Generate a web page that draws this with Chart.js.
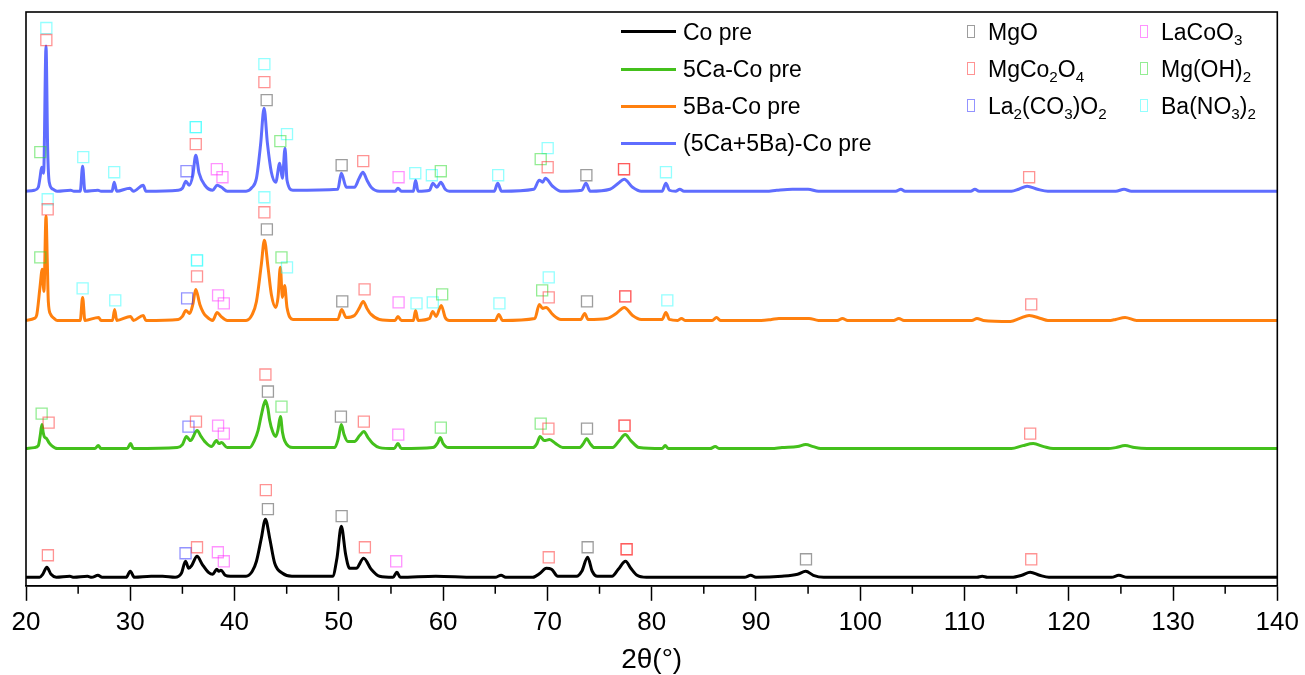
<!DOCTYPE html>
<html><head><meta charset="utf-8">
<script src="https://cdn.jsdelivr.net/npm/chart.js@4.4.1/dist/chart.umd.min.js"></script>
<style>
html,body{margin:0;padding:0;background:#fff;}
#wrap{position:relative;width:1305px;height:675px;font-family:'Liberation Sans',Arial,sans-serif;color:#000;}
#c{position:absolute;left:0;top:0;}
.item{position:absolute;height:30px;line-height:30px;font-size:23px;white-space:nowrap;}
.ln{position:absolute;height:3px;width:55px;}
.sq{position:absolute;width:6px;height:11px;border-width:1.3px;border-style:solid;}
sub{font-size:0.66em;vertical-align:-0.3em;line-height:0;}
</style></head>
<body><div id="wrap"><canvas id="c" width="1305" height="675"></canvas></div>
<script>
// ---- axis ----
const xMin = 20, xMax = 140, majorStep = 10, minorStep = 5;
const xTitle = '2θ(°)';

// ---- series (2θ, intensity above own baseline, a.u.) ----
const seriesNames = ['Co pre', '5Ca-Co pre', '5Ba-Co pre', '(5Ca+5Ba)-Co pre'];
const seriesColors = ['#000000', '#44c01c', '#ff800e', '#5f6dff'];
const seriesOffsets = [8.5, 137, 265, 394];

const coPre = [[20,0],[21.3,0],[21.6,3],[22.0,10],[22.4,3],[22.9,0],[24.2,1],[24.6,0],[25.9,1],[26.3,0],[26.9,2],[27.3,0],[29.6,0],[30.0,6],[30.4,0],[32.0,1],[33.1,1],[34.3,0],[34.9,4],[35.3,16],[35.6,9],[35.9,12],[36.4,21],[36.9,13],[37.5,5],[37.9,3],[38.3,8],[38.5,6],[38.7,7],[39.1,2],[39.6,1],[41.1,1],[41.7,6],[42.1,16],[42.57,39],[42.96,58],[43.37,39],[43.85,14],[44.6,4],[45.5,1],[49.4,1],[49.82,19],[50.24,51],[50.65,23],[51.03,9],[51.67,9],[52.38,19],[53.1,8],[53.9,1],[55.2,0],[55.57,5],[55.9,0],[59.3,1],[63,0],[65.0,0],[65.56,2],[66,0],[68.6,0],[69.3,4],[69.9,9],[70.4,8],[71.0,1],[72.8,1],[73.3,6],[73.86,20],[74.3,6],[74.8,1],[76.2,1],[76.8,8],[77.5,16],[78.0,9],[78.6,2],[79.5,0],[88.9,0],[89.5,2],[90,0],[92.5,1],[94.0,3],[94.78,6],[95.5,2],[96.5,0],[111.2,0],[111.7,1],[112.2,0],[114.5,0],[115.5,2],[116.3,5],[117.2,2],[118.1,0],[124.1,0],[124.8,2],[125.6,0],[140,0]];

const ca5CoPre = [[20,0],[20.8,1],[21.18,3],[21.35,12],[21.53,24],[21.65,16],[21.75,12],[21.98,10],[22.2,6],[22.46,3],[23,0],[26.6,0],[26.93,3],[27.2,0],[29.7,0],[30.03,5],[30.3,0],[34.5,1],[35.0,4],[35.39,12],[35.77,8],[36.41,18],[36.8,12],[37.15,7],[37.79,2],[38.27,8],[38.5,5],[38.75,6],[39.3,1],[41.46,1],[41.9,8],[42.25,18],[42.6,35],[42.96,48],[43.2,40],[43.37,28],[43.65,17],[43.95,12],[44.15,18],[44.4,32],[44.6,16],[44.8,8],[45.6,1],[49.6,1],[49.95,10],[50.24,24],[50.5,14],[50.87,7],[51.5,7],[52.0,13],[52.4,17],[52.8,11],[53.27,5],[53.9,1],[55.3,0],[55.67,5],[56.0,0],[59.0,1],[59.5,6],[59.72,11],[60.0,5],[60.5,1],[68.6,1],[69.0,5],[69.3,12],[69.7,8],[70.2,9],[70.8,5],[71.47,1],[73.07,1],[73.45,5],[73.77,10],[74.1,5],[74.5,1],[76.26,1],[76.9,8],[77.47,14],[78.0,8],[78.8,1],[81.0,0],[81.3,3],[81.6,0],[85.6,0],[86.1,2],[86.5,0],[91.5,0],[92.5,1],[94.0,2],[94.78,4],[95.5,2],[96.2,0],[114.5,0],[115.6,3],[116.6,5],[117.6,2],[118.5,0],[123.8,0],[124.5,1],[125.4,3],[126.3,1],[127.5,0],[140,0]];

const ba5CoPre = [[20,0],[20.8,2],[21.02,5],[21.34,33],[21.56,51],[21.72,29],[21.92,104],[22.04,60],[22.14,19],[22.36,6],[22.7,2],[23.0,0],[25.2,0],[25.43,23],[25.65,0],[26.96,3],[27.2,0],[28.3,0],[28.5,11],[28.7,0],[30.03,4],[30.3,0],[31.24,5],[31.5,0],[34.6,1],[35.0,4],[35.33,10],[35.7,7],[36.0,16],[36.28,31],[36.67,16],[37.0,8],[37.3,4],[37.9,0],[38.33,8],[38.7,4],[39.3,0],[41.1,0],[41.7,6],[42.1,19],[42.57,56],[42.86,80],[43.21,53],[43.53,26],[43.95,13],[44.17,23],[44.39,53],[44.59,23],[44.8,35],[45.03,13],[45.6,1],[49.9,1],[50.27,11],[50.7,3],[51.5,5],[51.95,12],[52.34,19],[52.7,12],[53.1,6],[53.9,1],[55.4,0],[55.67,4],[56,0],[57.15,0],[57.36,10],[57.6,0],[58.7,2],[59.0,9],[59.33,4],[59.82,15],[60.2,3],[60.6,0],[65.0,0],[65.34,6],[65.7,0],[68.8,2],[69.23,16],[69.55,12],[69.87,13],[70.5,6],[71.3,1],[73.2,1],[73.58,7],[73.9,1],[75.7,2],[76.6,7],[77.37,13],[78.17,5],[79.0,1],[81.0,1],[81.37,8],[81.7,1],[82.5,0],[82.86,2],[83.2,0],[85.8,0],[86.22,3],[86.6,0],[90.5,0],[91.5,1],[92.2,2],[95.1,2],[96,0],[97.8,0],[98.3,2],[98.8,0],[103.2,0],[103.7,2],[104.2,0],[110.7,0],[111.2,2],[111.8,0],[114.4,-1],[115.3,2],[116.2,5],[117.3,2],[118,0],[124.0,0],[124.5,1],[125.4,3],[126.5,0],[140,0]];

const caBaCoPre = [[20,0],[20.8,1],[21.18,4],[21.35,14],[21.5,24],[21.69,18],[21.92,145],[22.08,41],[22.23,9],[22.6,2],[23.0,0],[24.28,1],[24.6,0],[25.2,0],[25.43,25],[25.65,0],[26.9,1],[27.2,0],[28.25,0],[28.46,9],[28.7,0],[29.96,3],[30.3,0],[31.24,6],[31.5,0],[34.6,1],[35.0,3],[35.33,10],[35.65,6],[36.0,16],[36.28,36],[36.6,18],[37.15,6],[37.9,1],[38.33,6],[38.75,4],[39.3,0],[41.1,0],[41.7,4],[42.1,13],[42.51,48],[42.83,83],[43.15,48],[43.53,19],[43.95,9],[44.33,28],[44.59,13],[44.84,43],[45.03,11],[45.6,1],[49.9,2],[50.24,18],[50.72,4],[51.5,4],[51.95,13],[52.31,19],[52.7,11],[53.1,4],[53.9,0],[55.4,0],[55.67,3],[56,0],[57.15,0],[57.36,11],[57.6,0],[58.7,1],[59.02,8],[59.4,4],[59.78,9],[60.2,2],[60.6,0],[64.9,0],[65.24,8],[65.6,0],[68.7,2],[69.23,11],[69.55,9],[69.8,13],[70.5,5],[71.3,0],[73.3,1],[73.7,8],[74.1,0],[76.0,2],[76.8,8],[77.37,12],[78.17,4],[79.0,0],[81.0,0],[81.37,8],[81.7,1],[82.3,0],[82.7,2],[83.1,0],[91.0,0],[92.0,1],[93.5,2],[95.0,2],[96,0],[103.4,0],[103.9,2],[104.3,0],[110.6,0],[111.0,2],[111.4,0],[114.5,0],[115.2,2],[116.0,5],[117.0,2],[118,0],[124.5,0],[125.3,2],[126,0],[140,0]];

// ---- phase markers: [phase index, 2θ, height above own baseline] ----
const phaseNames = ['MgO', 'MgCo<sub>2</sub>O<sub>4</sub>', 'La<sub>2</sub>(CO<sub>3</sub>)O<sub>2</sub>', 'LaCoO<sub>3</sub>', 'Mg(OH)<sub>2</sub>', 'Ba(NO<sub>3</sub>)<sub>2</sub>'];
const phaseLabels = ['MgO', 'MgCo₂O₄', 'La₂(CO₃)O₂', 'LaCoO₃', 'Mg(OH)₂', 'Ba(NO₃)₂'];
const phaseColors = ['rgba(60,60,60,0.5)', 'rgba(255,40,40,0.5)', 'rgba(40,40,255,0.5)', 'rgba(255,40,255,0.5)', 'rgba(40,220,40,0.5)', 'rgba(40,255,255,0.5)'];

const coPreMarks = [[1,22.1,22],[2,35.3,24],[1,36.4,30],[3,38.4,25],[3,38.97,16],[1,43.0,87],[0,43.2,68],[0,50.27,61],[1,52.5,30],[3,55.5,16],[1,70.13,20],[0,73.86,30],[1,77.6,28],[1,77.6,28],[0,94.8,18],[1,116.4,18]];
const ca5Marks = [[4,21.5,35],[1,22.17,26],[2,35.58,22],[1,36.3,27],[3,38.42,23],[3,38.97,15],[1,42.96,74],[0,43.2,57],[4,44.5,42],[0,50.2,32],[1,52.4,27],[3,55.7,14],[4,59.78,21],[4,69.36,25],[1,70.1,20],[0,73.8,20],[1,77.4,23],[1,77.4,23],[1,116.3,15]];
const ba5Marks = [[4,21.37,63],[1,22.08,111],[5,22.08,121],[5,25.43,32],[5,28.56,20],[2,35.45,22],[1,36.4,44],[5,36.4,60],[5,36.4,60],[3,38.42,25],[3,38.97,17],[5,42.86,123],[1,42.86,108],[0,43.1,91],[4,44.5,63],[5,45.03,53],[0,50.33,19],[1,52.47,31],[3,55.73,18],[5,57.45,17],[5,59.01,18],[4,59.91,26],[5,65.4,17],[4,69.5,30],[1,70.13,23],[5,70.13,43],[0,73.8,19],[1,77.47,24],[1,77.47,24],[5,81.5,20],[1,116.4,16]];
const caBaMarks = [[4,21.37,39],[1,21.95,151],[5,21.95,163],[5,25.49,34],[5,28.46,19],[2,35.39,20],[1,36.28,47],[5,36.28,64],[5,36.28,64],[3,38.3,22],[3,38.84,14],[5,42.86,127],[1,42.86,109],[0,43.08,91],[4,44.39,50],[5,45.03,57],[0,50.27,26],[1,52.34,30],[3,55.73,14],[5,57.33,18],[5,58.92,16],[4,59.78,20],[5,65.28,16],[4,69.36,32],[1,70.03,24],[5,70.03,43],[0,73.74,16],[1,77.35,22],[1,77.35,22],[5,81.37,19],[1,116.2,14]];

const seriesData = [coPre, ca5CoPre, ba5CoPre, caBaCoPre];
const seriesMarks = [coPreMarks, ca5Marks, ba5Marks, caBaMarks];

// ---- build datasets ----
const datasets = [];
seriesData.forEach((arr, i) => {
  datasets.push({
    type: 'line', label: seriesNames[i],
    data: arr.map(p => ({x: p[0], y: p[1] + seriesOffsets[i]})),
    borderColor: seriesColors[i], borderWidth: 3, pointRadius: 0,
    cubicInterpolationMode: 'monotone', fill: false, order: 2
  });
});
phaseLabels.forEach((name, k) => {
  const pts = [];
  seriesMarks.forEach((marks, i) => marks.forEach(m => { if (m[0] === k) pts.push({x: m[1], y: m[2] + seriesOffsets[i]}); }));
  datasets.push({
    type: 'scatter', label: name, data: pts, showLine: false,
    pointStyle: 'rect', pointRadius: 7.8, pointHoverRadius: 7.8,
    pointBorderWidth: 1.3, pointBackgroundColor: 'rgba(0,0,0,0)',
    pointBorderColor: phaseColors[k], order: 1
  });
});

const framePlugin = {
  id: 'frameMinor',
  afterDraw(chart) {
    const {ctx, chartArea: a, scales: {x}} = chart;
    ctx.save();
    ctx.strokeStyle = '#000'; ctx.lineWidth = 1.6;
    ctx.strokeRect(a.left, a.top, a.right - a.left, a.bottom - a.top);
    ctx.lineWidth = 1.5;
    for (let v = xMin; v <= xMax; v += minorStep) {
      if (v % majorStep === 0) continue;
      const px = x.getPixelForValue(v);
      ctx.beginPath(); ctx.moveTo(px, a.bottom); ctx.lineTo(px, a.bottom + 8); ctx.stroke();
    }
    ctx.restore();
  }
};

const FONT = "'Liberation Sans', Arial, sans-serif";
new Chart(document.getElementById('c'), {
  data: {datasets},
  options: {
    responsive: false, animation: false, events: [],
    layout: {padding: {left: 26, right: 25, top: 12, bottom: 1}},
    plugins: {legend: {display: false}, tooltip: {enabled: false}},
    scales: {
      x: {
        type: 'linear', min: xMin, max: xMax, position: 'bottom',
        ticks: {stepSize: majorStep, color: '#000', padding: 6, font: {family: FONT, size: 26}, maxRotation: 0, autoSkip: false},
        grid: {drawOnChartArea: false, drawTicks: true, tickLength: 15, tickWidth: 1.5, tickColor: '#000'},
        border: {display: true, color: '#000', width: 1.6},
        title: {display: true, text: xTitle, color: '#000', font: {family: FONT, size: 28, lineHeight: 1}, padding: {top: 2, bottom: 0}}
      },
      y: {type: 'linear', min: 0, max: 573, display: false}
    }
  },
  plugins: [framePlugin]
});

// ---- legend (HTML text) ----
const wrap = document.getElementById('wrap');
const rowY = [31.7, 69, 106, 143];
seriesNames.forEach((n, i) => {
  const ln = document.createElement('div');
  ln.className = 'ln'; ln.style.left = '621px'; ln.style.top = (rowY[i] - 1.5) + 'px'; ln.style.background = seriesColors[i];
  wrap.appendChild(ln);
  const t = document.createElement('div');
  t.className = 'item'; t.style.left = '683px'; t.style.top = (rowY[i] - 15) + 'px'; t.textContent = n;
  wrap.appendChild(t);
});
const phaseCols = [[967, 988], [1140, 1161]];
phaseNames.forEach((n, k) => {
  const col = k < 3 ? 0 : 1, row = k % 3;
  const sq = document.createElement('div');
  sq.className = 'sq'; sq.style.left = phaseCols[col][0] + 'px'; sq.style.top = (rowY[row] - 7) + 'px'; sq.style.borderColor = phaseColors[k];
  wrap.appendChild(sq);
  const t = document.createElement('div');
  t.className = 'item'; t.style.left = phaseCols[col][1] + 'px'; t.style.top = (rowY[row] - 15) + 'px'; t.innerHTML = n;
  wrap.appendChild(t);
});
</script>
</body></html>
